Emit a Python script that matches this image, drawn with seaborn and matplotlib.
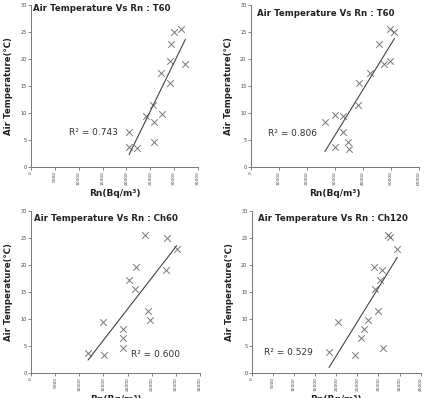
import matplotlib
matplotlib.use("Agg")
import matplotlib.pyplot as plt
import seaborn as sns
import pandas as pd

sns.set_theme(style="white")
plt.rcParams['font.family'] = ['DejaVu Sans']

# Air temperature values (same 15 observations in every panel)
temp_t60a = [6.5, 3.8, 3.5, 9.4, 11.5, 8.3, 4.6, 9.8, 17.4, 15.6, 19.6, 22.9, 25.1, 25.6, 19.2]
rn_t60a = [20570, 20570, 22250, 24200, 25520, 25730, 25870, 27550, 27340, 29080, 29150, 29430, 30060, 31520, 32360]

temp_t60b = [8.3, 9.7, 3.8, 9.4, 6.5, 4.6, 3.4, 11.5, 15.6, 17.4, 22.9, 19.1, 19.7, 25.6, 25.1]
rn_t60b = [26450, 30010, 30010, 32980, 32740, 34520, 34880, 38320, 38670, 42590, 45910, 47690, 49820, 49700, 51250]

temp_ch60 = [3.7, 9.4, 3.4, 8.2, 6.5, 4.6, 17.3, 15.6, 19.7, 25.6, 11.5, 9.8, 19.1, 25.0, 23.0]
rn_ch60 = [11810, 14920, 15190, 18990, 18990, 18990, 20240, 21550, 21820, 23620, 24240, 24720, 27900, 28250, 30180]

temp_ch120 = [3.8, 9.4, 3.4, 6.5, 8.2, 9.8, 19.7, 15.6, 11.5, 17.3, 19.1, 4.6, 25.6, 25.1, 22.9]
rn_ch120 = [18300, 20500, 24450, 25870, 26580, 27440, 28940, 29180, 29970, 30280, 30760, 31070, 32180, 32810, 34460]

titles = ["Air Temperature Vs Rn : T60", "Air Temperature Vs Rn : T60",
          "Air Temperature Vs Rn : Ch60", "Air Temperature Vs Rn : Ch120"]
r2_labels = ["R² = 0.743", "R² = 0.806", "R² = 0.600", "R² = 0.529"]
xmaxes = [35000, 60000, 35000, 40000]
xsteps = [5000, 10000, 5000, 5000]

panels = [(rn_t60a, temp_t60a), (rn_t60b, temp_t60b), (rn_ch60, temp_ch60), (rn_ch120, temp_ch120)]

W, H = 430, 398
fig = plt.figure(figsize=(W / 100, H / 100), dpi=100)
fig.patch.set_facecolor("white")

boxes = [(31, 5.3, 198, 167), (250.7, 5.3, 419, 167),
         (31, 211, 200, 373), (251.7, 211, 420.7, 373)]
r2_pos = [(8000, 6.4), (6050, 6.2), (20700, 3.4), (3000, 3.8)]
title_pos = [(0.01, 29.4), (0.04, 28.5), (0.016, 28.6), (0.04, 28.6)]

for i, ((xs, ys), (l, t, r, b)) in enumerate(zip(panels, boxes)):
    ax = fig.add_axes([l / W, 1 - b / H, (r - l) / W, (b - t) / H])
    df = pd.DataFrame({"rn": xs, "temp": ys})
    sns.regplot(data=df, x="rn", y="temp", ax=ax, ci=None, marker="x",
                scatter_kws=dict(color="#555555", s=22, linewidths=0.7),
                line_kws=dict(color="#444444", lw=0.8))
    ax.set_xlim(0, xmaxes[i])
    ax.set_ylim(0, 30)
    ax.set_xticks(list(range(0, xmaxes[i] + 1, xsteps[i])))
    ax.set_yticks(list(range(0, 31, 5)))
    ax.tick_params(axis="x", labelsize=3.2, labelrotation=90, length=2, width=0.5,
                   color="#555555", labelcolor="#444444", pad=1, direction="out", bottom=True)
    ax.tick_params(axis="y", labelsize=3.6, length=2, width=0.5, color="#555555",
                   labelcolor="#444444", pad=1, direction="out", left=True)
    for s in ["top", "right"]:
        ax.spines[s].set_visible(False)
    for s in ["left", "bottom"]:
        ax.spines[s].set_color("#777777")
        ax.spines[s].set_linewidth(0.7)
    ax.set_xlabel("Rn(Bq/m³)", fontsize=6.5, fontweight="bold", color="#222222", labelpad=2.5)
    ax.set_ylabel("Air Temperature(℃)", fontsize=6.2, fontweight="bold", color="#222222", labelpad=5.5)
    tx, ty = title_pos[i]
    ax.text(tx, ty / 30, titles[i], transform=ax.transAxes, fontsize=6.2, fontweight="bold",
            color="#222222", va="center", ha="left")
    rx, ry = r2_pos[i]
    ax.text(rx, ry, r2_labels[i], fontsize=6.5, color="#333333", va="center", ha="left")

fig.savefig("out.png", dpi=100, facecolor="white")
